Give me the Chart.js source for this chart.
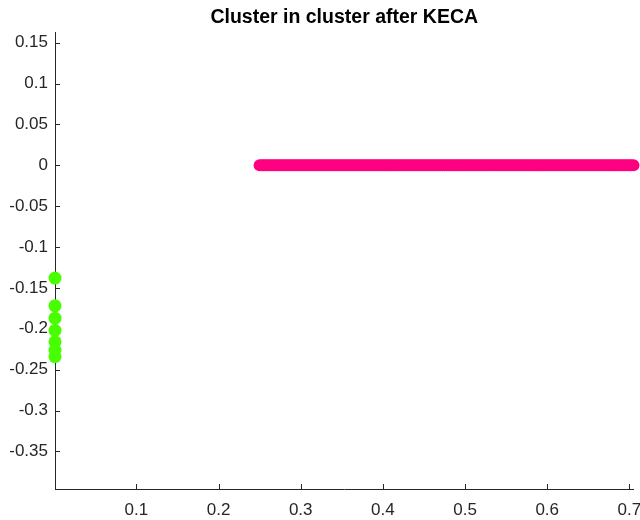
<!DOCTYPE html>
<html>
<head>
<meta charset="utf-8">
<script src="https://cdn.jsdelivr.net/npm/chart.js@4/dist/chart.umd.min.js"></script>
<style>
  html, body { margin: 0; padding: 0; background: #fff; }
  #wrap { width: 640px; height: 520px; }
</style>
</head>
<body>
<div id="wrap"><canvas id="c"></canvas></div>
<script>
// Cluster 1: points collapsed onto the horizontal axis (y = 0)
const clusterAX = [
  0.2500, 0.2525, 0.2550, 0.2575, 0.2600, 0.2625, 0.2650, 0.2675, 0.2700, 0.2725,
  0.2750, 0.2775, 0.2800, 0.2825, 0.2850, 0.2875, 0.2900, 0.2925, 0.2950, 0.2975,
  0.3000, 0.3025, 0.3050, 0.3075, 0.3100, 0.3125, 0.3150, 0.3175, 0.3200, 0.3225,
  0.3250, 0.3275, 0.3300, 0.3325, 0.3350, 0.3375, 0.3400, 0.3425, 0.3450, 0.3475,
  0.3500, 0.3525, 0.3550, 0.3575, 0.3600, 0.3625, 0.3650, 0.3675, 0.3700, 0.3725,
  0.3750, 0.3775, 0.3800, 0.3825, 0.3850, 0.3875, 0.3900, 0.3925, 0.3950, 0.3975,
  0.4000, 0.4025, 0.4050, 0.4075, 0.4100, 0.4125, 0.4150, 0.4175, 0.4200, 0.4225,
  0.4250, 0.4275, 0.4300, 0.4325, 0.4350, 0.4375, 0.4400, 0.4425, 0.4450, 0.4475,
  0.4500, 0.4525, 0.4550, 0.4575, 0.4600, 0.4625, 0.4650, 0.4675, 0.4700, 0.4725,
  0.4750, 0.4775, 0.4800, 0.4825, 0.4850, 0.4875, 0.4900, 0.4925, 0.4950, 0.4975,
  0.5000, 0.5025, 0.5050, 0.5075, 0.5100, 0.5125, 0.5150, 0.5175, 0.5200, 0.5225,
  0.5250, 0.5275, 0.5300, 0.5325, 0.5350, 0.5375, 0.5400, 0.5425, 0.5450, 0.5475,
  0.5500, 0.5525, 0.5550, 0.5575, 0.5600, 0.5625, 0.5650, 0.5675, 0.5700, 0.5725,
  0.5750, 0.5775, 0.5800, 0.5825, 0.5850, 0.5875, 0.5900, 0.5925, 0.5950, 0.5975,
  0.6000, 0.6025, 0.6050, 0.6075, 0.6100, 0.6125, 0.6150, 0.6175, 0.6200, 0.6225,
  0.6250, 0.6275, 0.6300, 0.6325, 0.6350, 0.6375, 0.6400, 0.6425, 0.6450, 0.6475,
  0.6500, 0.6525, 0.6550, 0.6575, 0.6600, 0.6625, 0.6650, 0.6675, 0.6700, 0.6725,
  0.6750, 0.6775, 0.6800, 0.6825, 0.6850, 0.6875, 0.6900, 0.6925, 0.6950, 0.6975,
  0.7000, 0.7025, 0.7050
];
const clusterAY = clusterAX.map(() => 0);

// Cluster 2: points collapsed onto the vertical axis
const clusterBX = [0.001, 0.001, 0.001, 0.001, 0.001, 0.001, 0.001];
const clusterBY = [-0.138, -0.172, -0.187, -0.202, -0.216, -0.226, -0.234];

// Axis limits and tick labels
const xLimits = [0.001, 0.705];
const yLimits = [-0.396, 0.163];
const xTicks = [0.1, 0.2, 0.3, 0.4, 0.5, 0.6, 0.7];
const yTicks = [0.15, 0.1, 0.05, 0, -0.05, -0.1, -0.15, -0.2, -0.25, -0.3, -0.35];

const axisColor = '#262626';
const tickFont = { family: "'Liberation Sans', Arial, sans-serif", size: 17 };

const toPoints = (xs, ys) => xs.map((x, i) => ({ x: x, y: ys[i] }));
const fmt = v => String(Number(v.toFixed(3)));

// Short tick marks drawn inward from the axis lines
const inwardTicks = {
  id: 'inwardTicks',
  beforeDatasetsDraw(chart) {
    const { ctx, chartArea, scales } = chart;
    ctx.save();
    ctx.strokeStyle = axisColor;
    ctx.lineWidth = 1;
    ctx.beginPath();
    scales.x.ticks.forEach(t => {
      const px = Math.round(scales.x.getPixelForValue(t.value)) + 0.5;
      ctx.moveTo(px, chartArea.bottom);
      ctx.lineTo(px, chartArea.bottom - 5);
    });
    scales.y.ticks.forEach(t => {
      const py = Math.round(scales.y.getPixelForValue(t.value)) + 0.5;
      ctx.moveTo(chartArea.left, py);
      ctx.lineTo(chartArea.left + 5, py);
    });
    ctx.stroke();
    ctx.restore();
  }
};

new Chart(document.getElementById('c'), {
  type: 'scatter',
  data: {
    datasets: [
      {
        data: toPoints(clusterAX, clusterAY),
        backgroundColor: '#ff0080',
        borderColor: '#ff0080',
        borderWidth: 0,
        pointRadius: 6,
        pointHoverRadius: 6,
        clip: false
      },
      {
        data: toPoints(clusterBX, clusterBY),
        backgroundColor: '#47ff00',
        borderColor: '#47ff00',
        borderWidth: 0,
        pointRadius: 6.5,
        pointHoverRadius: 6.5,
        clip: false
      }
    ]
  },
  options: {
    responsive: true,
    maintainAspectRatio: false,
    animation: false,
    events: [],
    layout: { padding: { left: 0, right: 4, top: 0, bottom: 0 } },
    plugins: {
      legend: { display: false },
      tooltip: { enabled: false },
      title: {
        display: true,
        fullSize: false,
        text: 'Cluster in cluster after KECA',
        color: '#000',
        font: { family: "'Liberation Sans', Arial, sans-serif", size: 19.5, weight: 'bold' },
        padding: { top: 6, bottom: 2.6 }
      }
    },
    scales: {
      x: {
        type: 'linear',
        min: xLimits[0],
        max: xLimits[1],
        afterBuildTicks: s => { s.ticks = xTicks.map(v => ({ value: v })); },
        afterFit: s => { s.height = 31; s.paddingLeft = 0; s.paddingRight = 0; },
        grid: { display: true, drawOnChartArea: false, drawTicks: false },
        border: { display: true, color: axisColor, width: 1 },
        ticks: { color: axisColor, font: tickFont, padding: 11, maxRotation: 0, callback: v => fmt(v) }
      },
      y: {
        type: 'linear',
        min: yLimits[0],
        max: yLimits[1],
        afterBuildTicks: s => { s.ticks = yTicks.map(v => ({ value: v })); },
        afterFit: s => { s.width = 55; s.paddingTop = 0; s.paddingBottom = 0; },
        grid: { display: true, drawOnChartArea: false, drawTicks: false },
        border: { display: true, color: axisColor, width: 1 },
        ticks: { color: axisColor, font: tickFont, padding: 7, callback: v => fmt(v) }
      }
    }
  },
  plugins: [inwardTicks]
});
</script>
</body>
</html>
